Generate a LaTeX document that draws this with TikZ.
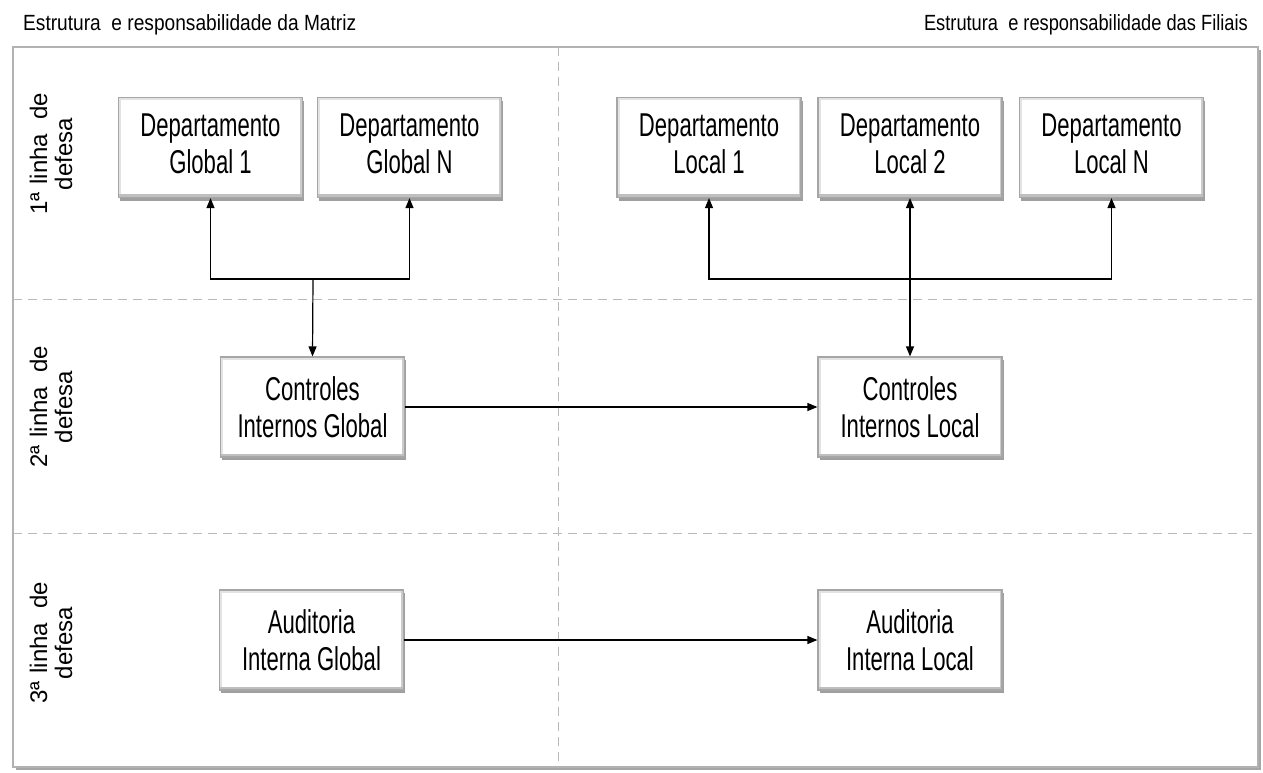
\documentclass[tikz,border=0pt]{standalone}
\usepackage{fontspec}
\setmainfont{Liberation Sans}
\newfontfamily\boxfont[FakeStretch=0.67]{Liberation Sans}
\newfontfamily\headfont[FakeStretch=0.87]{Liberation Sans}
\newfontfamily\headfontb[FakeStretch=0.83]{Liberation Sans}
\usetikzlibrary{arrows.meta,shadows}
\tikzset{
  stepbox/.style={draw=gray!70, line width=1.2pt, fill=white, minimum width=184pt, minimum height=100pt,
    align=center, inner sep=0pt, font=\boxfont\fontsize{33}{37}\selectfont,
    drop shadow={shadow xshift=1.5pt, shadow yshift=-3pt, fill=gray!75, opacity=1},
    path picture={
      \draw[gray!22, line width=5pt] (path picture bounding box.south west) -- (path picture bounding box.north west) -- (path picture bounding box.north east);
      \draw[gray!40, line width=5pt] (path picture bounding box.north east) -- (path picture bounding box.south east);
      \draw[gray!50, line width=7pt] (path picture bounding box.south west) -- (path picture bounding box.south east);}},
  arr/.style={-{Triangle[length=10pt,width=8pt]}, line width=1.2pt},
  darr/.style={{Triangle[length=10pt,width=8pt]}-{Triangle[length=10pt,width=8pt]}, line width=1.2pt},
  sep/.style={gray!55, line width=1pt, dash pattern=on 9pt off 6pt},
  rowlabel/.style={rotate=90, align=center, font=\fontsize{24}{25}\selectfont},
  headlabel/.style={inner sep=0pt, font=\headfont\fontsize{22}{24}\selectfont},
  headlabelb/.style={inner sep=0pt, font=\headfontb\fontsize{22}{24}\selectfont}
}
\newcommand{\gapA}{\hspace{8pt}}
\newcommand{\gapB}{\hspace{14pt}}
\begin{document}
\begin{tikzpicture}[x=1pt,y=-1pt]
\fill[white] (0,0) rectangle (1263,772);
\useasboundingbox (0,0) rectangle (1263,772);
% frame
\fill[gray!70] (16,50) rectangle (1261,770);
\draw[gray!60, line width=1.5pt, fill=white] (13,47) rectangle (1258,767);
% separators
\draw[sep] (13,299) -- (1258,299);
\draw[sep] (13,533) -- (1258,533);
\draw[sep] (558,47) -- (558,767);
% headers
\node[headlabel, anchor=base west] (hl) at (23,30) {Estrutura\ \ e responsabilidade da Matriz};
\node[headlabelb, anchor=base east] (hr) at (1248,30) {Estrutura\ \ e responsabilidade das Filiais};
% row labels
\node[rowlabel] (r1) at (51,154) {1ª\gapA linha\gapB de\\defesa};
\node[rowlabel] (r2) at (51,407) {2ª\gapA linha\gapB de\\defesa};
\node[rowlabel] (r3) at (51,643) {3ª\gapA linha\gapB de\\defesa};
% boxes
\node[stepbox] (g1) at (210.5,147.5) {\raisebox{3pt}{\begin{tabular}{@{}c@{}}Departamento\\Global 1\end{tabular}}};
\node[stepbox] (gn) at (409.5,147.5) {\raisebox{3pt}{\begin{tabular}{@{}c@{}}Departamento\\Global N\end{tabular}}};
\node[stepbox] (l1) at (709,147.5) {\raisebox{3pt}{\begin{tabular}{@{}c@{}}Departamento\\Local 1\end{tabular}}};
\node[stepbox] (l2) at (910,147.5) {\raisebox{3pt}{\begin{tabular}{@{}c@{}}Departamento\\Local 2\end{tabular}}};
\node[stepbox] (ln) at (1111.5,147.5) {\raisebox{3pt}{\begin{tabular}{@{}c@{}}Departamento\\Local N\end{tabular}}};
\node[stepbox] (cg) at (312.5,407) {Controles\\Internos Global};
\node[stepbox] (cl) at (910,407) {Controles\\Internos Local};
\node[stepbox] (ag) at (311.5,640) {Auditoria\\Interna Global};
\node[stepbox] (al) at (910,640) {Auditoria\\Interna Local};
% connectors
\coordinate (gj) at (313,279);
\coordinate (lj) at (910,279);
\draw[arr] (gj) -| (g1.south);
\draw[arr] (gj) -| (gn.south);
\draw[arr] (gj) -- (cg.north);
\draw[arr] (lj) -| (l1.south);
\draw[arr] (lj) -| (ln.south);
\draw[darr] (l2.south) -- (cl.north);
\draw[arr] (cg.east) -- (cl.west);
\draw[arr] (ag.east) -- (al.west);
\end{tikzpicture}
\end{document}
